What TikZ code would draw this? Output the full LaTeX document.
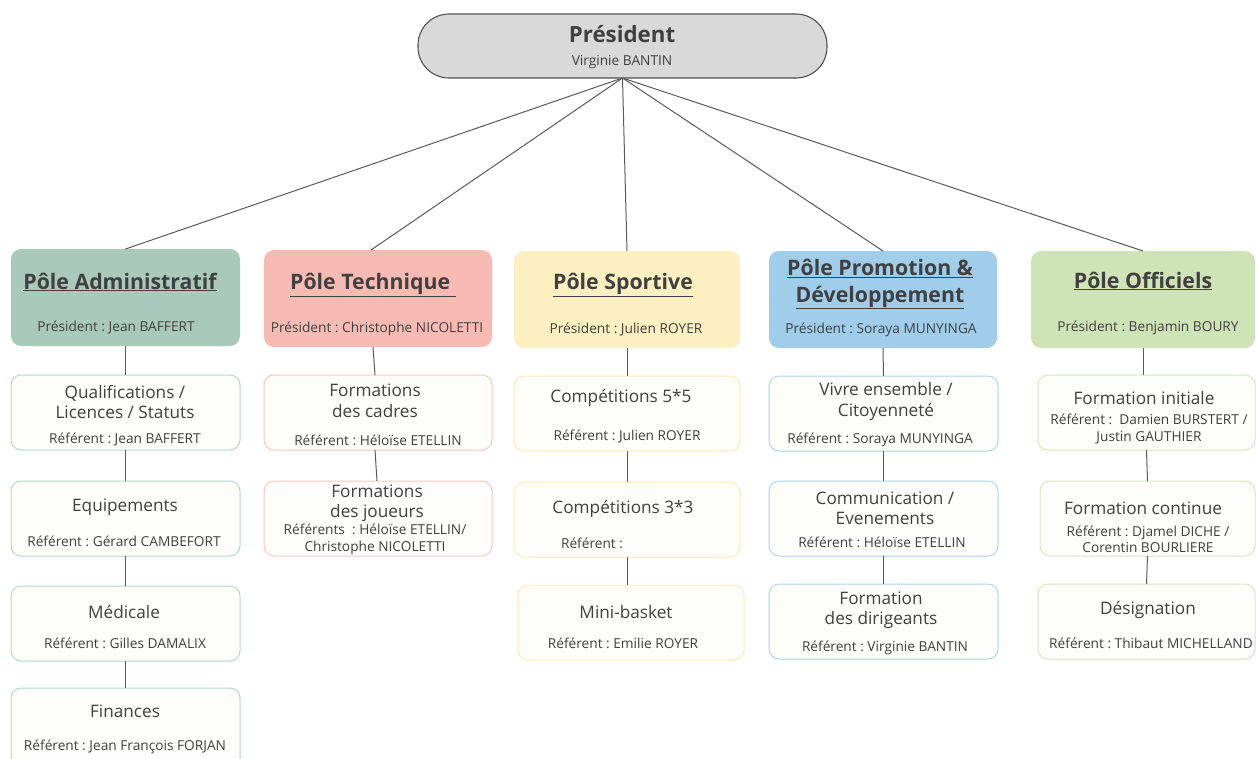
\documentclass[tikz,border=0pt]{standalone}
\usepackage{fontspec}
\setmainfont{Open Sans}
\frenchspacing
\definecolor{txt}{HTML}{404040}
\definecolor{pillfill}{HTML}{D9D9D9}
\definecolor{pillline}{HTML}{505050}
\definecolor{offw}{HTML}{FDFDF9}
\definecolor{hA}{HTML}{A9CABA}\definecolor{bA}{HTML}{B7D8CA}
\definecolor{hB}{HTML}{F8BBB4}\definecolor{bB}{HTML}{F7C6C1}
\definecolor{hC}{HTML}{FDF0C0}\definecolor{bC}{HTML}{FBEBB8}
\definecolor{hD}{HTML}{9FCDEA}\definecolor{bD}{HTML}{AED5EE}
\definecolor{hE}{HTML}{CEE4B6}\definecolor{bE}{HTML}{D3E8BE}
\definecolor{lnk}{HTML}{5A5A5A}
\newcommand\ulx[1]{\underline{#1}}
\tikzset{
 box/.style={anchor=north west, inner sep=0pt, outer sep=0pt},
 pill/.style={box, draw=pillline, fill=pillfill, rounded corners=31pt, line width=1.1pt},
 head/.style={box, rounded corners=10pt, fill=#1},
 sub/.style={box, rounded corners=10pt, fill=offw, draw=#1, line width=1pt},
 ttl/.style={font=\fontsize{21.3}{27}\selectfont\bfseries, text=txt, align=center, inner sep=0pt},
 sttl/.style={font=\fontsize{17.2}{20.5}\selectfont, text=txt, align=center, inner sep=0pt},
 reft/.style={font=\fontsize{13.7}{16.5}\selectfont, text=txt, align=center, inner sep=0pt},
 link/.style={draw=lnk, line width=1pt}
}
\begin{document}
\begin{tikzpicture}[x=1pt,y=-1pt]
\useasboundingbox (0,0) rectangle (1256,758);
% president
\node[pill, minimum width=409pt, minimum height=64pt] (P) at (418,14) {};
\node[ttl, font=\fontsize{22.3}{24}\selectfont\bfseries] (Pt) at (622,34) {Président};
\node[reft] (Pn) at (622,62) {Virginie BANTIN};
% headers
\node[head=hA, minimum width=229pt, minimum height=97pt] (H1) at (11,249) {};
\node[head=hB, minimum width=228pt, minimum height=97pt] (H2) at (264,250) {};
\node[head=hC, minimum width=226pt, minimum height=97pt] (H3) at (514,251) {};
\node[head=hD, minimum width=228pt, minimum height=97pt] (H4) at (769,251) {};
\node[head=hE, minimum width=224pt, minimum height=97pt] (H5) at (1031,251) {};
\node[ttl] (H1t) at (120,282) {\ulx{Pôle Administratif}};
\node[ttl] (H2t) at (373,285) {\ulx{Pôle Technique\ }};
\node[ttl] (H3t) at (623,285) {\ulx{Pôle Sportive}};
\node[ttl] (H4t) at (880,284) {\ulx{Pôle Promotion \&}\\\ulx{Développement}};
\node[ttl] (H5t) at (1143,281) {\ulx{Pôle Officiels}};
\node[reft] (H1p) at (116,328) {Président : Jean BAFFERT};
\node[reft] (H2p) at (377,329) {Président : Christophe NICOLETTI};
\node[reft] (H3p) at (626,330) {Président : Julien ROYER};
\node[reft] (H4p) at (881,330) {Président : Soraya MUNYINGA};
\node[reft] (H5p) at (1148,328) {Président : Benjamin BOURY};
% column 1
\node[sub=bA, minimum width=229pt, minimum height=75pt] (C11) at (11,375) {};
\node[sub=bA, minimum width=229pt, minimum height=75pt] (C12) at (11,481) {};
\node[sub=bA, minimum width=229pt, minimum height=75pt] (C13) at (11,586) {};
\node[sub=bA, minimum width=229pt, minimum height=85pt] (C14) at (11,688) {};
\node[sttl] (C11t) at (125,402) {Qualifications /\\Licences / Statuts};
\node[reft] (C11r) at (125,440) {Référent : Jean BAFFERT};
\node[sttl] (C12t) at (125,507) {Equipements};
\node[reft] (C12r) at (124,541) {Référent : Gérard CAMBEFORT};
\node[sttl] (C13t) at (124,612) {Médicale};
\node[reft] (C13r) at (125,643) {Référent : Gilles DAMALIX};
\node[sttl] (C14t) at (125,711) {Finances};
\node[reft] (C14r) at (125,747) {Référent : Jean François FORJAN};
% column 2
\node[sub=bB, minimum width=228pt, minimum height=75pt] (C21) at (264,375) {};
\node[sub=bB, minimum width=228pt, minimum height=75pt] (C22) at (264,481) {};
\node[sttl] (C21t) at (375,401) {Formations\\des cadres};
\node[reft] (C21r) at (378,440) {Référent : Héloïse ETELLIN};
\node[sttl] (C22t) at (377,503) {Formations\\des joueurs};
\node[reft] (C22r) at (375,539.5) {Référents\ \ : Héloïse ETELLIN/\\Christophe NICOLETTI};
% column 3
\node[sub=bC, minimum width=226pt, minimum height=75pt] (C31) at (514,376) {};
\node[sub=bC, minimum width=226pt, minimum height=75pt] (C32) at (514,482) {};
\node[sub=bC, minimum width=226pt, minimum height=75pt] (C33) at (518,585) {};
\node[sttl] (C31t) at (621,398) {Compétitions 5*5};
\node[reft] (C31r) at (627,437) {Référent : Julien ROYER};
\node[sttl] (C32t) at (623,509) {Compétitions 3*3};
\node[reft] (C32r) at (592,543) {Référent :};
\node[sttl] (C33t) at (626,612) {Mini-basket};
\node[reft] (C33r) at (623,643) {Référent : Emilie ROYER};
% column 4
\node[sub=bD, minimum width=229pt, minimum height=75pt] (C41) at (769,376) {};
\node[sub=bD, minimum width=229pt, minimum height=75pt] (C42) at (769,481) {};
\node[sub=bD, minimum width=229pt, minimum height=75pt] (C43) at (769,584) {};
\node[sttl] (C41t) at (886,401.5) {Vivre ensemble /\\Citoyenneté};
\node[reft] (C41r) at (880,440) {Référent : Soraya MUNYINGA};
\node[sttl] (C42t) at (885,508.5) {Communication /\\Evenements};
\node[reft] (C42r) at (882,542) {Référent : Héloïse ETELLIN};
\node[sttl] (C43t) at (881,610) {Formation\\des dirigeants};
\node[reft] (C43r) at (885,648) {Référent : Virginie BANTIN};
% column 5
\node[sub=bE, minimum width=217pt, minimum height=75pt] (C51) at (1038,375) {};
\node[sub=bE, minimum width=215pt, minimum height=75pt] (C52) at (1040,481) {};
\node[sub=bE, minimum width=217pt, minimum height=75pt] (C53) at (1038,584) {};
\node[sttl] (C51t) at (1144,398) {Formation initiale};
\node[reft] (C51r) at (1149,429) {Référent :\ \ Damien BURSTERT /\\Justin GAUTHIER};
\node[sttl] (C52t) at (1143,508) {Formation continue};
\node[reft] (C52r) at (1148,539.5) {Référent : Djamel DICHE /\\Corentin BOURLIERE};
\node[sttl] (C53t) at (1148,610) {Désignation};
\node[reft] (C53r) at (1151,643) {Référent : Thibaut MICHELLAND};
% connectors
\draw[link] (P.south) -- (H1.north);
\draw[link] (P.south) -- ([xshift=-7pt]H2.north);
\draw[link] (P.south) -- (H3.north);
\draw[link] (P.south) -- (H4.north);
\draw[link] (P.south) -- (H5.north);
\draw[link] (H1.south) -- (C11.north);
\draw[link] (C11.south) -- (C12.north);
\draw[link] (C12.south) -- (C13.north);
\draw[link] (C13.south) -- (C14.north);
\draw[link] ([xshift=-5pt]H2.south) -- ([xshift=-3pt]C21.north);
\draw[link] ([xshift=-3pt]C21.south) -- ([xshift=-1pt]C22.north);
\draw[link] (H3.south) -- (C31.north);
\draw[link] (C31.south) -- (C32.north);
\draw[link] (C32.south) -- (C32.south |- C33.north);
\draw[link] (H4.south) -- (C41.north);
\draw[link] (C41.south) -- (C42.north);
\draw[link] (C42.south) -- (C43.north);
\draw[link] (H5.south) -- (H5.south |- C51.north);
\draw[link] (C51.south) -- (C52.north);
\draw[link] (C52.south) -- (C53.north);
\end{tikzpicture}
\end{document}
